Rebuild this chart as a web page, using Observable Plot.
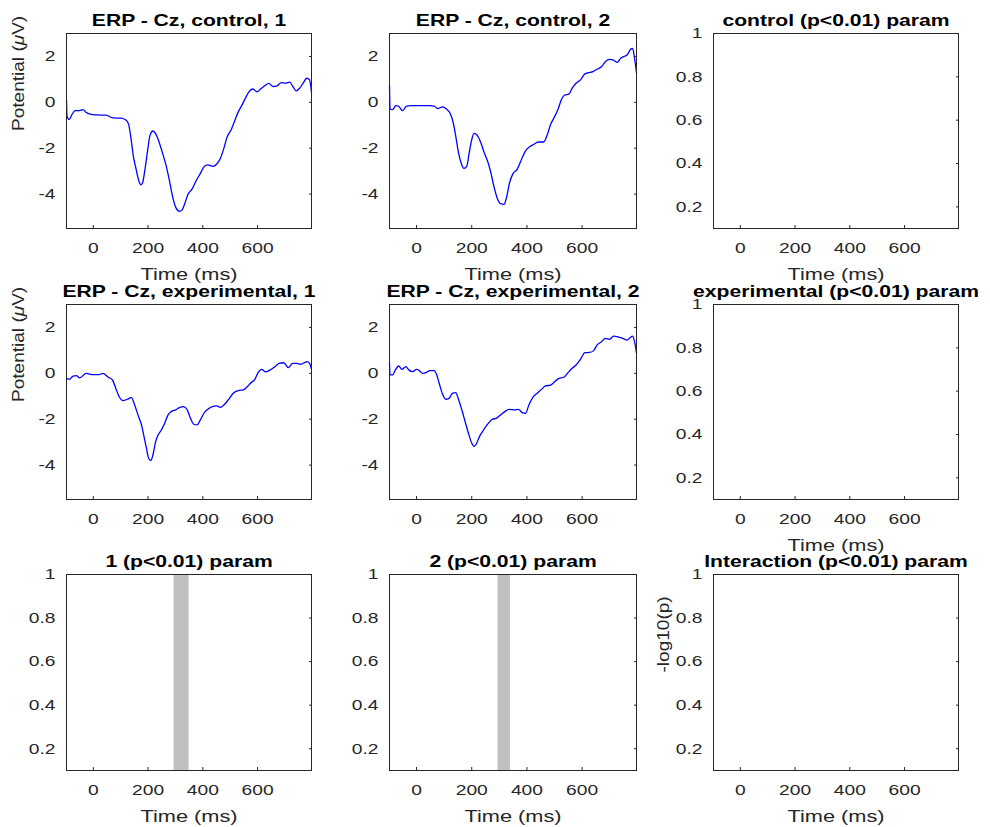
<!DOCTYPE html>
<html><head><meta charset="utf-8">
<script src="https://cdn.jsdelivr.net/npm/d3@7"></script>
<script src="https://cdn.jsdelivr.net/npm/@observablehq/plot@0.6"></script>
<style>
html,body{margin:0;padding:0;background:#fff;}
#page{position:relative;width:990px;height:827px;overflow:hidden;background:#fff;}
#page svg{position:absolute;}
</style></head>
<body><div id="page"></div>
<script>
// ---------------- data ----------------
const timeDomain = [-98, 797];
const timeTicks = [0, 200, 400, 600];
const erpDomain = [-5.5, 3];
const erpTicks = [-4, -2, 0, 2];
const pDomain = [0.1, 1];
const pTicks = [0.2, 0.4, 0.6, 0.8, 1];
const pTickLabels = ["0.2", "0.4", "0.6", "0.8", "1"];

const titles = [
  "ERP - Cz, control, 1", "ERP - Cz, control, 2", "control (p<0.01) param",
  "ERP - Cz, experimental, 1", "ERP - Cz, experimental, 2", "experimental (p<0.01) param",
  "1 (p<0.01) param", "2 (p<0.01) param", "Interaction (p<0.01) param"
];

// [time (ms), potential (µV)]
const ctrl1 = [[-98,0.1],[-96,-0.6],[-88,-0.75],[-78,-0.53],[-66,-0.36],[-51,-0.36],[-37,-0.32],[-27,-0.43],[-15,-0.5],[10,-0.55],[46,-0.56],[71,-0.68],[101,-0.69],[120,-0.78],[129,-0.96],[138,-1.61],[146,-2.33],[156,-2.9],[166,-3.41],[174,-3.6],[180,-3.51],[189,-2.9],[199,-2.04],[207,-1.44],[217,-1.25],[229,-1.4],[241,-1.76],[254,-2.26],[266,-2.76],[278,-3.41],[290,-4.13],[302,-4.6],[315,-4.75],[324,-4.7],[334,-4.42],[345,-4.03],[361,-3.77],[376,-3.41],[390,-3.12],[406,-2.79],[418,-2.73],[437,-2.79],[451,-2.69],[463,-2.47],[476,-2.04],[488,-1.54],[504,-1.18],[516,-0.82],[528,-0.46],[544,-0.1],[559,0.26],[571,0.5],[583,0.58],[598,0.46],[613,0.6],[626,0.72],[641,0.83],[656,0.69],[671,0.72],[687,0.86],[702,0.83],[717,0.88],[729,0.69],[741,0.5],[754,0.62],[766,0.83],[780,1.05],[790,0.98],[797,0.43]];
const ctrl2 = [[-98,0.76],[-96,-0.29],[-87,-0.32],[-75,-0.14],[-65,-0.17],[-51,-0.36],[-36,-0.17],[-20,-0.14],[10,-0.14],[46,-0.14],[64,-0.17],[76,-0.27],[94,-0.2],[108,-0.29],[122,-0.49],[133,-0.89],[142,-1.47],[152,-2.19],[161,-2.62],[172,-2.88],[182,-2.79],[190,-2.26],[199,-1.68],[208,-1.35],[220,-1.44],[233,-1.76],[245,-2.19],[257,-2.55],[269,-3.05],[281,-3.7],[293,-4.2],[305,-4.42],[317,-4.45],[325,-4.2],[337,-3.51],[349,-3.12],[365,-2.91],[381,-2.47],[395,-2.12],[411,-1.93],[425,-1.83],[441,-1.73],[461,-1.73],[473,-1.44],[486,-0.96],[500,-0.63],[513,-0.29],[525,0.12],[537,0.32],[552,0.36],[564,0.62],[578,0.83],[594,0.98],[610,1.24],[624,1.29],[639,1.34],[654,1.44],[670,1.55],[684,1.77],[699,1.87],[714,1.84],[727,1.74],[739,1.91],[754,2.01],[763,2.06],[775,2.3],[783,2.35],[790,1.91],[797,1.29]];
const exp1 = [[-98,-0.22],[-87,-0.26],[-74,-0.12],[-62,-0.1],[-50,-0.2],[-26,0],[-1,-0.06],[21,-0.06],[35,0],[54,-0.17],[70,-0.29],[82,-0.65],[94,-1.01],[109,-1.19],[124,-1.13],[139,-1.06],[151,-1.38],[163,-1.81],[176,-2.25],[185,-2.75],[194,-3.26],[202,-3.7],[210,-3.8],[218,-3.55],[227,-3.01],[237,-2.68],[249,-2.46],[261,-2.17],[273,-1.81],[285,-1.67],[301,-1.59],[316,-1.48],[330,-1.45],[343,-1.59],[355,-1.96],[367,-2.22],[379,-2.25],[391,-2.03],[404,-1.74],[420,-1.55],[435,-1.45],[450,-1.42],[465,-1.48],[477,-1.38],[493,-1.16],[511,-0.87],[529,-0.75],[548,-0.72],[560,-0.61],[574,-0.43],[590,-0.26],[602,0.03],[615,0.17],[630,0.06],[645,0.14],[663,0.29],[679,0.43],[696,0.46],[712,0.25],[728,0.43],[743,0.43],[757,0.39],[770,0.46],[782,0.51],[791,0.41],[797,0.17]];
const exp2 = [[-98,0.46],[-96,-0.07],[-87,-0.07],[-77,0.14],[-65,0.32],[-53,0.17],[-39,0.29],[-27,0.14],[-14,0.07],[0,0.17],[10,0.12],[22,0],[34,0.03],[48,0.12],[64,0.12],[72,-0.03],[82,-0.43],[94,-0.9],[106,-1.13],[118,-1.09],[130,-0.87],[142,-0.84],[152,-1.13],[164,-1.59],[176,-2.1],[188,-2.61],[200,-3.04],[208,-3.19],[217,-3.07],[227,-2.78],[239,-2.54],[251,-2.32],[263,-2.14],[275,-2.0],[289,-1.96],[305,-1.81],[320,-1.67],[335,-1.57],[353,-1.59],[369,-1.57],[383,-1.71],[395,-1.74],[407,-1.38],[422,-1.04],[437,-0.87],[453,-0.7],[467,-0.55],[486,-0.51],[501,-0.36],[516,-0.22],[534,-0.17],[549,0.03],[564,0.22],[578,0.36],[594,0.61],[610,0.9],[627,0.91],[642,0.99],[654,1.23],[670,1.38],[684,1.52],[699,1.48],[714,1.62],[730,1.59],[747,1.52],[763,1.45],[775,1.57],[783,1.62],[790,1.38],[797,0.87]];

// significant time windows [start, end] (ms)
const sig1 = [[295, 350]];
const sig2 = [[295, 340]];

// ---------------- layout & style ----------------
const colsPx = [[66, 311], [389, 636], [713, 958]];
const rowsPx = [[33, 228], [304, 499], [574, 770]];
const M = {left: 75, right: 20, top: 40, bottom: 60};
const FONT = "'Liberation Sans', Arial, Helvetica, sans-serif";
const INK = "#262626";
const WIDE = 1.28;     // glyph widening of horizontal text
const WIDE_ROT = 1.12; // rotated labels

const panels = [
  {row:0, col:0, title:titles[0], kind:"erp", series:ctrl1, ylabel:"Potential (μV)", xlabel:true},
  {row:0, col:1, title:titles[1], kind:"erp", series:ctrl2, xlabel:true},
  {row:0, col:2, title:titles[2], kind:"p", xlabel:true},
  {row:1, col:0, title:titles[3], kind:"erp", series:exp1, ylabel:"Potential (μV)"},
  {row:1, col:1, title:titles[4], kind:"erp", series:exp2},
  {row:1, col:2, title:titles[5], kind:"p", xlabel:true},
  {row:2, col:0, title:titles[6], kind:"p", sig:sig1, xlabel:true},
  {row:2, col:1, title:titles[7], kind:"p", sig:sig2, xlabel:true},
  {row:2, col:2, title:titles[8], kind:"p", ylabel:"-log10(p)", xlabel:true}
];

const page = document.getElementById("page");

function makePanel(cfg) {
  const [L, R] = colsPx[cfg.col];
  const [T, B] = rowsPx[cfg.row];
  const erp = cfg.kind === "erp";
  const yDomain = erp ? erpDomain : pDomain;
  const yTicks = erp ? erpTicks : pTicks;
  const yFmt = erp ? (d => String(d)) : (d => pTickLabels[pTicks.indexOf(d)]);
  const marks = [];
  if (cfg.sig) marks.push(Plot.rect(cfg.sig, {x1: d => d[0], x2: d => d[1], fill: "#c0c0c0"}));
  if (cfg.series) marks.push(Plot.line(cfg.series, {x: d => d[0], y: d => d[1], stroke: "#0000ff", strokeWidth: 1.3, curve: "monotone-x"}));
  marks.push(Plot.frame({stroke: INK, strokeWidth: 1}));
  marks.push(Plot.axisX({ticks: timeTicks, anchor: "bottom", tickSize: 0, tickPadding: 14, fontSize: 15, fill: INK, label: null, tickFormat: d => String(d)}));
  marks.push(Plot.axisX({ticks: timeTicks, anchor: "bottom", tickSize: -3, stroke: INK, fill: "none", label: null}));
  marks.push(Plot.axisY({ticks: yTicks, anchor: "left", tickSize: 0, tickPadding: 11, fontSize: 15, fill: INK, label: null, tickFormat: yFmt}));
  marks.push(Plot.axisY({ticks: yTicks, anchor: "right", tickSize: -3, stroke: INK, fill: "none", label: null}));
  marks.push(Plot.text([cfg.title], {text: d => d, frameAnchor: "top", lineAnchor: "bottom", dy: -8, fontWeight: "bold", fontSize: 16.5, fill: "#000"}));
  if (cfg.xlabel) marks.push(Plot.text(["Time (ms)"], {text: d => d, frameAnchor: "bottom", lineAnchor: "top", dy: 39, fontSize: 17, fill: INK}));
  if (cfg.ylabel) marks.push(Plot.text([cfg.ylabel], {text: d => d, frameAnchor: "left", rotate: -90, lineAnchor: "middle", dx: erp ? -48 : -50, fontSize: 17, fill: INK}));

  const svg = Plot.plot({
    width: (R - L) + M.left + M.right,
    height: (B - T) + M.top + M.bottom,
    marginLeft: M.left, marginRight: M.right, marginTop: M.top, marginBottom: M.bottom,
    x: {domain: timeDomain},
    y: {domain: yDomain},
    style: {fontFamily: FONT, color: INK, background: "transparent", overflow: "visible", maxWidth: "none"},
    marks
  });
  svg.style.left = (L - M.left) + "px";
  svg.style.top = (T - M.top) + "px";
  page.appendChild(svg);
  return svg;
}

const svgs = panels.map(makePanel);

// italic µ (TeX style) in the potential labels
svgs.forEach(svg => {
  d3.select(svg).selectAll("text").each(function() {
    if (this.textContent === "Potential (μV)") {
      const t = d3.select(this);
      t.text(null);
      t.append("tspan").text("Potential (");
      t.append("tspan").attr("font-style", "italic").text("μ");
      t.append("tspan").text("V)");
    }
  });
});

// widen glyphs to match the wide face used in the original figure
svgs.forEach(svg => {
  d3.select(svg).selectAll("text").each(function() {
    const len = this.getComputedTextLength();
    if (!(len > 0)) return;
    const rot = (this.getAttribute("transform") || "").includes("rotate");
    this.setAttribute("textLength", (len * (rot ? WIDE_ROT : WIDE)).toFixed(2));
    this.setAttribute("lengthAdjust", "spacingAndGlyphs");
  });
});
</script>
</body></html>
